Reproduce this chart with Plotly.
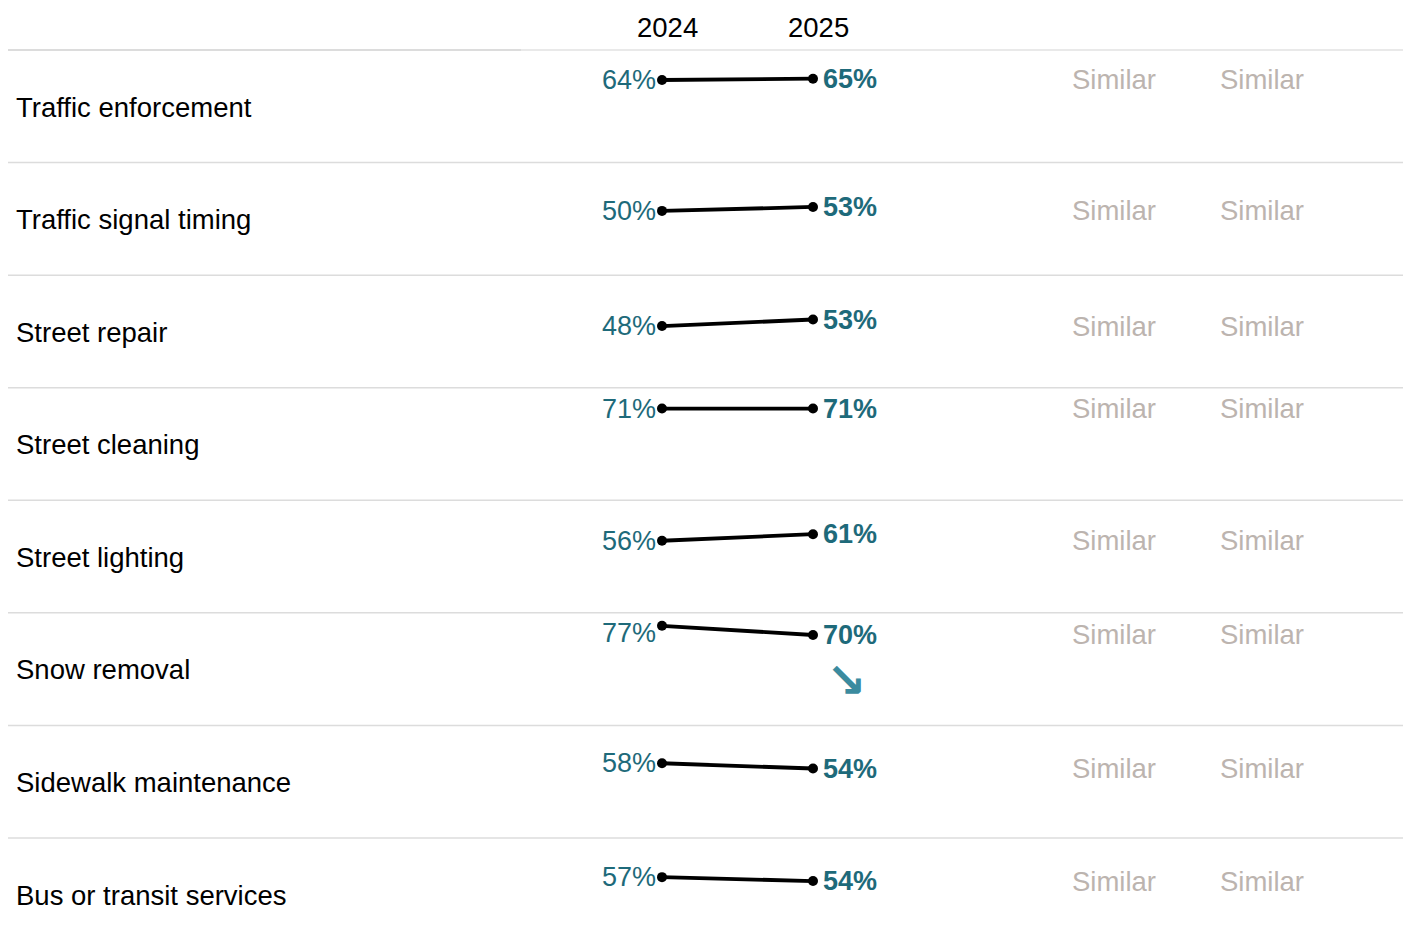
import plotly.graph_objects as go

# ---- data ----
categories = ["Traffic enforcement", "Traffic signal timing", "Street repair",
              "Street cleaning", "Street lighting", "Snow removal",
              "Sidewalk maintenance", "Bus or transit services"]
years = [2024, 2025]
year_labels = ["2024", "2025"]
values_2024 = [64, 50, 48, 71, 56, 77, 58, 57]
values_2025 = [65, 53, 53, 71, 61, 70, 54, 54]
trend = ["", "", "", "", "", "down", "", ""]
compare_a = ["Similar"] * 8
compare_b = ["Similar"] * 8

# ---- layout constants ----
W, H = 1403, 943
K = 1.309            # px per percentage point
ROW = 86.0           # percentage units per row band
TOP_PX = 50          # first separator (px)
ROW_HI = 86.9        # value at the top of each row band
Y_TOP = ROW_HI + TOP_PX / K
Y_BOT = Y_TOP - H / K
PXY = 151.0          # px per year on x
X0 = years[0] - 662 / PXY
X1 = X0 + W / PXY


def xpx(p):  # pixel -> x data
    return X0 + p / PXY


def ypx(p):  # pixel -> y data
    return Y_TOP - p / K


FONT = "Liberation Sans, Arial, sans-serif"
TEAL = "#1e6a7a"
ARROW = "#3b8b9f"
GRAY = "#bcb4af"
SEP = "#dcdcdc"
FS = 27.5

fig = go.Figure()
ann = []
shapes = []

for i, cat in enumerate(categories):
    base = -i * ROW
    v0, v1 = values_2024[i], values_2025[i]
    fig.add_trace(go.Scatter(
        x=years, y=[v0 + base, v1 + base], mode="lines+markers",
        line=dict(color="black", width=3.8),
        marker=dict(color="black", size=10),
        hoverinfo="skip", showlegend=False))
    clamp = ROW_HI - 20 / K
    ann.append(dict(x=years[0], y=min(v0, clamp) + base, text=f"{v0}%",
                    xanchor="right", yanchor="middle", xshift=-4, showarrow=False,
                    font=dict(family=FONT, size=27, color=TEAL)))
    ann.append(dict(x=years[1], y=min(v1, clamp) + base, text=f"<b>{v1}%</b>",
                    xanchor="left", yanchor="middle", xshift=8, showarrow=False,
                    font=dict(family=FONT, size=27, color=TEAL)))
    ann.append(dict(x=xpx(14), y=ROW_HI - 57 / K + base, text=cat,
                    xanchor="left", yanchor="middle", showarrow=False,
                    font=dict(family=FONT, size=FS, color="black")))
    ysim = min(v0, v1) + base
    ann.append(dict(x=xpx(1114), y=ysim, text=compare_a[i], xanchor="center",
                    yanchor="middle", showarrow=False,
                    font=dict(family=FONT, size=FS, color=GRAY)))
    ann.append(dict(x=xpx(1262), y=ysim, text=compare_b[i], xanchor="center",
                    yanchor="middle", showarrow=False,
                    font=dict(family=FONT, size=FS, color=GRAY)))
    if trend[i] == "down":
        ann.append(dict(x=years[1] + 33 / PXY, y=ROW_HI - 67 / K + base, text="<b>↘</b>",
                        xanchor="center", yanchor="middle", showarrow=False,
                        font=dict(family="DejaVu Sans", size=48, color=ARROW)))
    ysep = ROW_HI + base
    if i == 0:
        shapes.append(dict(type="line", x0=xpx(8), x1=xpx(521), y0=ysep, y1=ysep,
                           line=dict(color="#d0d0d0", width=1.5)))
        shapes.append(dict(type="line", x0=xpx(521), x1=xpx(1403), y0=ysep, y1=ysep,
                           line=dict(color="#e2e2e2", width=1.5)))
    else:
        shapes.append(dict(type="line", x0=xpx(8), x1=xpx(1403), y0=ysep, y1=ysep,
                           line=dict(color=SEP, width=1.5)))

for yr, lab in zip(years, year_labels):
    ann.append(dict(x=yr, y=ypx(27), text=lab, xanchor="center", yanchor="middle",
                    xshift=5, showarrow=False,
                    font=dict(family=FONT, size=FS, color="black")))

fig.update_layout(
    width=W, height=H, margin=dict(l=0, r=0, t=0, b=0),
    paper_bgcolor="white", plot_bgcolor="white", showlegend=False,
    xaxis=dict(range=[X0, X1], visible=False, fixedrange=True),
    yaxis=dict(range=[Y_BOT, Y_TOP], visible=False, fixedrange=True),
    annotations=ann, shapes=shapes,
)
fig.write_html("out.html", config={"displayModeBar": False},
               post_script="document.body.style.margin='0';document.body.style.overflow='hidden';")
